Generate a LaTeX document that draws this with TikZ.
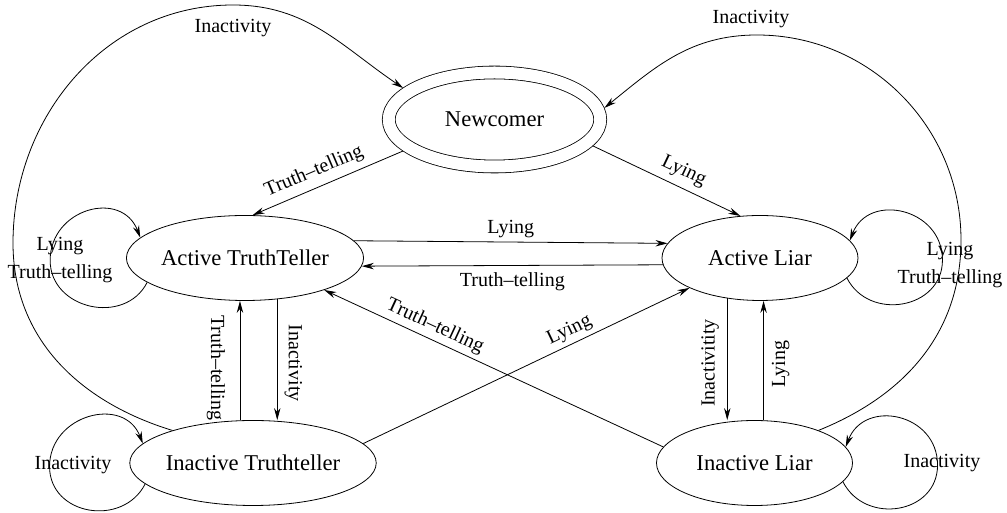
\documentclass[tikz,border=0pt]{standalone}
\usepackage{fontspec}
\setmainfont{Liberation Serif}
\usetikzlibrary{arrows.meta,shapes.geometric}

\begin{document}
\begin{tikzpicture}[x=0.5pt,y=0.5pt,>={Stealth[length=6pt,width=3.2pt]},
    state/.style={draw,ellipse,minimum width=98pt,minimum height=42.5pt,inner sep=0pt,
      font=\fontsize{11.3}{13}\selectfont}]
  \useasboundingbox (0,0) rectangle (1007,513);

  % Zustaende
  \node[state,double,double distance=6pt,outer sep=3.4pt,minimum width=105.75pt,minimum height=47pt]
    (newcomer) at (494.5,393.5) {Newcomer};
  \node[state] (actT) at (245,255) {Active TruthTeller};
  \node[state] (actL) at (760,255) {Active Liar};
  \node[state] (inaT) at (253,50) {Inactive Truthteller};
  \node[state] (inaL) at (754.5,50) {Inactive Liar};

  \coordinate (leftL) at (13,270);
  \coordinate (topL) at (233,508);
  \coordinate (rightL) at (961,273);
  \coordinate (topR) at (757,478);

  \begin{scope}[thin]
    \draw[->] (newcomer.199) -- (actT.80) node[pos=.55,sloped,above] {Truth\textendash telling};
    \draw[->] (newcomer.-15) -- (actL.115) node[pos=.57,sloped,above] {Lying};
    \draw[->] (actT.9) -- (actL.171) node[midway,above,inner sep=2pt] {Lying};
    \draw[->] (actL.184) -- (actT.-4) node[midway,below] {Truth\textendash telling};

    \draw[->] (inaT.107) -- (inaT.107 |- actT.south) node[pos=.44,xshift=-12pt,rotate=-90] {Truth\textendash telling};
    \draw[->] (actT.-52) -- (actT.-52 |- inaT.north) node[pos=.53,xshift=8pt,rotate=-90] {Inactivity};
    \draw[->] (actL.231) -- (actL.231 |- inaL.north) node[pos=.53,xshift=-8.5pt,rotate=90] {Inactivitity};
    \draw[->] (inaL.78) -- (inaL.78 |- actL.south) node[pos=.47,xshift=8.5pt,rotate=90] {Lying};

    \draw[->] (inaL.170) -- (actT.-22) node[pos=.69,sloped,above,inner sep=2pt] {Truth\textendash telling};
    \draw[->] (inaT.10) -- (actL.203) node[pos=.65,sloped,above,inner sep=2pt] {Lying};

    % Schleifen
    \draw[->] (actT.194) .. controls +(243:49) and +(-90:49) .. ([shift={(-97,22)}]actT.194)
      .. controls +(90:52) and +(111:52) .. (actT.169);
    \draw[->] (actL.-13) .. controls +(-63:49) and +(-90:49) .. ([shift={(95.5,18)}]actL.-13)
      .. controls +(90:52) and +(69:52) .. (actL.11);
    \draw[->] (inaT.191) .. controls +(243:49) and +(-90:49) .. ([shift={(-95.6,17.4)}]inaT.191)
      .. controls +(90:52) and +(111:52) .. (inaT.170);
    \draw[->] (inaL.-12) .. controls +(-63:49) and +(-90:49) .. ([shift={(94.6,16.7)}]inaL.-12)
      .. controls +(90:52) and +(69:52) .. (inaL.10);

    \draw[->] (inaT.158) to[out=163,in=-90] (leftL) to[out=90,in=180] (topL)
      node[below=3.5pt] {Inactivity} to[out=0,in=146] (newcomer.161);
    \draw[->] (inaL.27) to[out=22,in=-90] (rightL) to[out=90,in=0] (topR)
      node[above,xshift=-3pt] {Inactivity} to[out=180,in=39] (newcomer.6);
  \end{scope}

  \node[align=center] (loopAT) at (60,253) {Lying\\[2pt]Truth\textendash telling};
  \node[align=center] (loopAL) at (950,248) {Lying\\[2pt]Truth\textendash telling};
  \node (loopIT) at (73,48) {Inactivity};
  \node (loopIL) at (942,50) {Inactivity};
\end{tikzpicture}
\end{document}
